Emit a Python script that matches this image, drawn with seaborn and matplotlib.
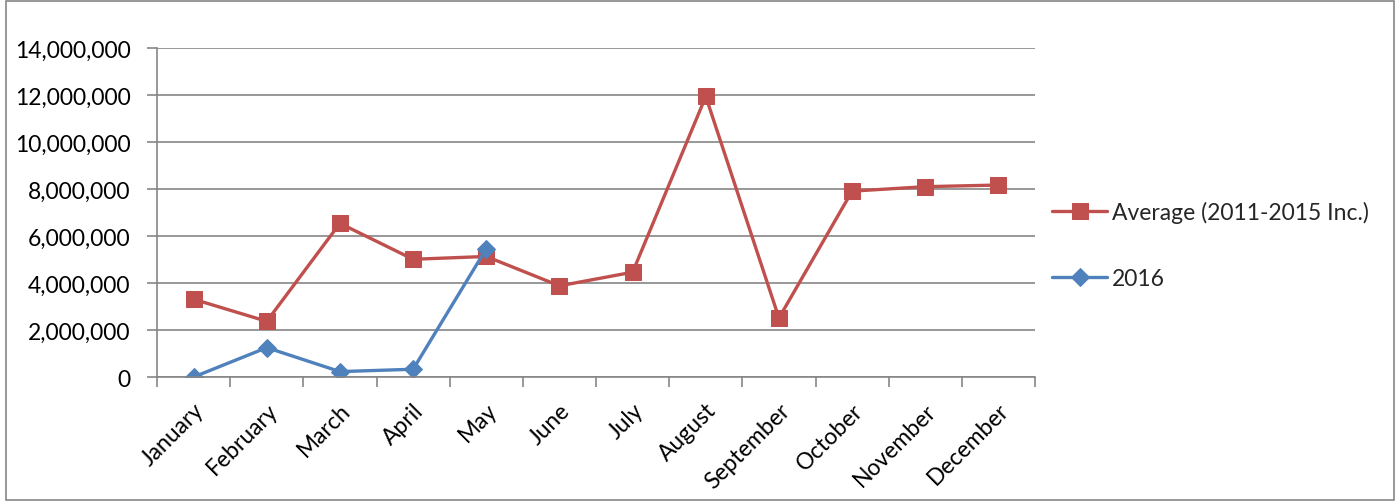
import matplotlib.pyplot as plt
import matplotlib.ticker as mticker
import seaborn as sns
from matplotlib.patches import Rectangle

sns.set_theme(style="white")
plt.rcParams["font.family"] = ["Lato", "DejaVu Sans"]

# =====================================================
# DATA
# =====================================================

months = ["January", "February", "March", "April", "May", "June",
          "July", "August", "September", "October", "November", "December"]
average_2011_2015 = [3310000, 2370000, 6540000, 5010000, 5130000, 3880000,
                     4460000, 11940000, 2510000, 7910000, 8100000, 8170000]
months_2016 = ["January", "February", "March", "April", "May"]
values_2016 = [0, 1250000, 230000, 330000, 5460000]

RED = "#C0504D"
BLUE = "#4F81BD"
GRID = "#868686"
FONT_SIZE = 16.5

# =====================================================
# PLOT
# =====================================================

fig = plt.figure(figsize=(13.97, 5.02), dpi=100)
ax = fig.add_axes([0.1124, 0.247, 0.6285, 0.6553])

sns.lineplot(x=months, y=average_2011_2015, ax=ax, color=RED, marker="s",
             markersize=11, markeredgecolor=RED, linewidth=2.4,
             label="Average (2011-2015 Inc.)", sort=False)
sns.lineplot(x=months_2016, y=values_2016, ax=ax, color=BLUE, marker="D",
             markersize=9, markeredgecolor=BLUE, linewidth=2.4,
             label="2016", sort=False)

ax.set_xlim(-0.5, 11.5)
ax.set_ylim(0, 14000000)
ax.set_yticks(range(0, 14000001, 2000000))
ax.yaxis.set_major_formatter(mticker.FuncFormatter(lambda v, p: f"{int(v):,}"))
ax.yaxis.grid(True, color=GRID, linewidth=1.2)
ax.set_axisbelow(True)

ax.set_xticks(range(12))
ax.set_xticklabels(months, rotation=45, ha="right", rotation_mode="anchor")
ax.set_xticks([i - 0.5 for i in range(13)], minor=True)
ax.tick_params(axis="x", which="major", length=0, pad=16, labelsize=FONT_SIZE,
               labelcolor="black")
ax.tick_params(axis="x", which="minor", length=7, color=GRID, width=1.2,
               direction="out", bottom=True)
ax.tick_params(axis="y", length=7, color=GRID, width=1.2, direction="out",
               left=True, labelsize=FONT_SIZE, pad=12, labelcolor="black")

for side in ["top", "right"]:
    ax.spines[side].set_visible(False)
for side in ["left", "bottom"]:
    ax.spines[side].set_color(GRID)
    ax.spines[side].set_linewidth(1.2)

ax.set_xlabel("")
ax.set_ylabel("")

ax.legend(loc="center left", bbox_to_anchor=(0.7465, 0.51),
          bbox_transform=fig.transFigure, frameon=False, fontsize=FONT_SIZE,
          handlelength=2.4, handletextpad=0.2, labelspacing=2.0,
          borderaxespad=0)

# outer chart border
fig.patches.append(Rectangle((0.004, 0.002), 0.994, 0.995, transform=fig.transFigure,
                             fill=False, edgecolor=GRID, linewidth=1.2))

fig.savefig("out.png", dpi=100)
